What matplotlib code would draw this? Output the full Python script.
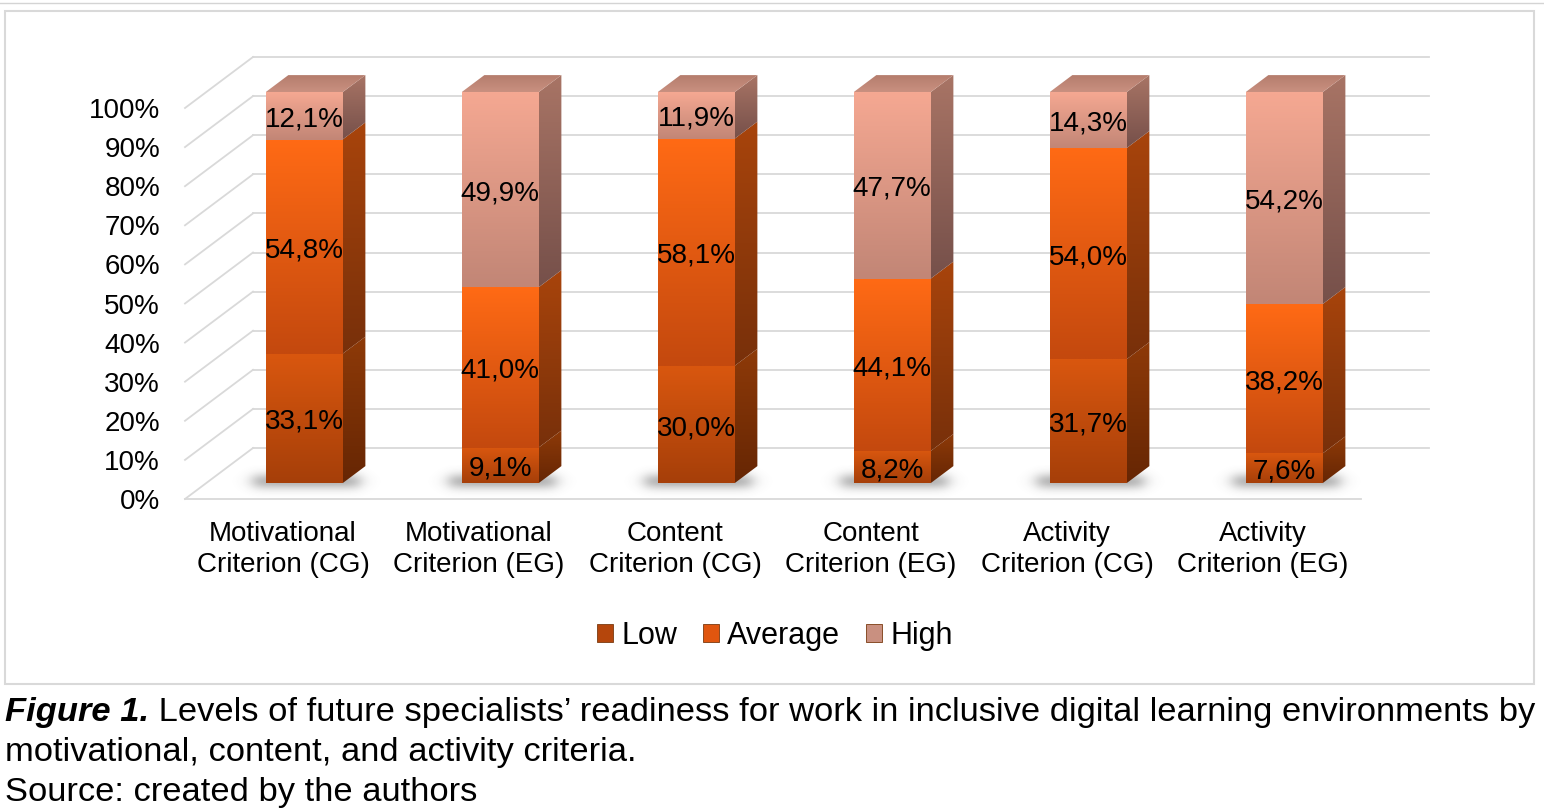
import numpy as np
import matplotlib
matplotlib.use("Agg")
import matplotlib.pyplot as plt
from matplotlib.patches import Polygon, Patch, Rectangle
from matplotlib.lines import Line2D
from matplotlib.colors import to_rgb

plt.rcParams['font.family'] = ['Liberation Sans', 'DejaVu Sans']

categories = ["Motivational\nCriterion (CG)", "Motivational\nCriterion (EG)",
              "Content\nCriterion (CG)", "Content\nCriterion (EG)",
              "Activity\nCriterion (CG)", "Activity\nCriterion (EG)"]
series_names = ["Low", "Average", "High"]
low = [33.1, 9.1, 30.0, 8.2, 31.7, 7.6]
average = [54.8, 41.0, 58.1, 44.1, 54.0, 38.2]
high = [12.1, 49.9, 11.9, 47.7, 14.3, 54.2]
yticks = list(range(0, 101, 10))

# styling
front_cols = {"Low": ("#D9570F", "#A63F09"),
              "Average": ("#FF6A15", "#C4490E"),
              "High": ("#F5A892", "#C28676")}
side_cols = {"Low": ("#8E3A08", "#662604"),
             "Average": ("#A8440C", "#78300A"),
             "High": ("#A87465", "#76504A")}
top_col = ("#C99080", "#B47C6C")
legend_cols = {"Low": "#B5460C", "Average": "#E0560F", "High": "#C99080"}
grid_col = "#D9D9D9"

W, H = 1544, 808
fig = plt.figure(figsize=(W / 100, H / 100), dpi=100)
# front plane: x -0.5..5.5 -> px 185..1361 ; y 0..100 -> px 499..108
ax = fig.add_axes([185 / W, 1 - 499 / H, (1361 - 185) / W, (499 - 108) / H])
ax.set_xlim(-0.5, 5.5)
ax.set_ylim(0, 100)
ax.set_autoscale_on(False)
for s in ax.spines.values():
    s.set_visible(False)

# oblique depth projection (z=0 front, z=1 back wall)
OX = 68 / 196.0
OY = 51 / 3.91
zf, zb = 0.31, 0.645
bw = 0.393


def proj(x, y, z):
    return (x + OX * z, y + OY * z)


# gridlines: back wall + left wall + floor
for v in yticks:
    x0, y0 = proj(-0.5, v, 1)
    x1, y1 = proj(5.5, v, 1)
    ax.plot([x0, x1], [y0, y1], color=grid_col, lw=1.3, clip_on=False, zorder=1)
    a = proj(-0.5, v, 0)
    ax.plot([a[0], x0], [a[1], y0], color=grid_col, lw=1.3, clip_on=False, zorder=1)
ax.plot([-0.5, 5.5], [0, 0], color=grid_col, lw=1.3, clip_on=False, zorder=1)


def grad(c1, c2, n=64):
    a = np.array(to_rgb(c1)); b = np.array(to_rgb(c2))
    t = np.linspace(0, 1, n)[:, None]
    return (a * (1 - t) + b * t)[:, None, :]


def draw_poly_grad(pts, c1, c2, z):
    pts = np.array(pts)
    poly = Polygon(pts, closed=True, transform=ax.transData, facecolor='none', edgecolor='none')
    im = ax.imshow(grad(c1, c2), extent=[pts[:, 0].min(), pts[:, 0].max(),
                                         pts[:, 1].min(), pts[:, 1].max()],
                   origin='upper', aspect='auto', interpolation='bilinear',
                   zorder=z)
    im.set_clip_box(fig.bbox)
    im.set_clip_path(poly)


# soft shadow kernel
sx = np.linspace(-1, 1, 200)
sy = np.linspace(-1, 1, 80)
XX, YY = np.meshgrid(sx, sy)
fxk = 0.5 * (1 - np.tanh((np.abs(XX) - 0.72) / 0.12))
fyk = np.exp(-((YY + 0.1) / 0.45) ** 2)
shadow = np.zeros((80, 200, 4)); shadow[..., :3] = 0.3
shadow[..., 3] = 0.42 * fxk * fyk

data = [low, average, high]
for i in range(len(categories)):
    fx0, fy = proj(i - bw / 2, 0, zf)
    sxr, _ = proj(i + bw / 2, 0, zb)
    ax.imshow(shadow, extent=[fx0 - 0.17, sxr + 0.08, fy - 4.5, fy + 4.5],
              origin='upper', aspect='auto', zorder=2, clip_on=False,
              interpolation='bilinear')

    bottom = 0.0
    for name, vals in zip(series_names, data):
        v = vals[i]
        top = bottom + v
        xl, xr = i - bw / 2, i + bw / 2
        front = [proj(xl, bottom, zf), proj(xr, bottom, zf), proj(xr, top, zf), proj(xl, top, zf)]
        draw_poly_grad(front, *front_cols[name], 4)
        side = [proj(xr, bottom, zf), proj(xr, bottom, zb), proj(xr, top, zb), proj(xr, top, zf)]
        draw_poly_grad(side, *side_cols[name], 3)
        lx, ly = proj(i, bottom + v / 2, zf)
        ax.annotate(f"{v:.1f}%".replace('.', ','), (lx, ly), xytext=(0, -2.5),
                    textcoords='offset points', ha='center', va='center',
                    fontsize=20, color='black', zorder=6, annotation_clip=False)
        bottom = top
    topf = [proj(i - bw / 2, bottom, zf), proj(i + bw / 2, bottom, zf),
            proj(i + bw / 2, bottom, zb), proj(i - bw / 2, bottom, zb)]
    draw_poly_grad(topf, top_col[1], top_col[0], 3)

ax.set_yticks(yticks)
ax.set_yticklabels([f"{v}%" for v in yticks], fontsize=20)
ax.set_xticks(range(len(categories)))
ax.set_xticklabels(categories, fontsize=20, linespacing=1.27)
for lab in ax.get_xticklabels():
    lab.set_multialignment('center')
ax.tick_params(axis='both', length=0)
ax.tick_params(axis='y', pad=18)
ax.tick_params(axis='x', pad=15.5)

handles = [Patch(facecolor=legend_cols[n], edgecolor='#7A3A10', linewidth=0.6, label=n)
           for n in series_names]
fig.legend(handles=handles, loc='center', bbox_to_anchor=(775 / W, 1 - 636 / H), ncol=3,
           frameon=False, fontsize=22, handlelength=0.52, handleheight=0.52,
           handletextpad=0.28, columnspacing=0.85)

# chart border
fig.patches.append(Rectangle((5 / W, 1 - 684 / H), (1534 - 5) / W, (684 - 11) / H,
                             transform=fig.transFigure, fill=False,
                             edgecolor='#D9D9D9', lw=1.5))
fig.lines.append(Line2D([0, 1], [1 - 2.5 / H, 1 - 2.5 / H], transform=fig.transFigure,
                        color='#D4D4D4', lw=1.0))

# caption
fs = 24.8
t1 = fig.text(5 / W, 1 - 713 / H, "Figure 1.", fontsize=fs, fontweight='bold',
              fontstyle='italic', va='center', ha='left')
fig.canvas.draw()
r = fig.canvas.get_renderer()
bb = t1.get_window_extent(r)
fig.text(bb.x1 / W, 1 - 713 / H,
         " Levels of future specialists’ readiness for work in inclusive digital learning environments by",
         fontsize=fs, va='center', ha='left')
fig.text(5 / W, 1 - 753 / H, "motivational, content, and activity criteria.",
         fontsize=fs, va='center', ha='left')
fig.text(5 / W, 1 - 793 / H, "Source: created by the authors",
         fontsize=fs, va='center', ha='left')

fig.savefig("out.png", dpi=100)
